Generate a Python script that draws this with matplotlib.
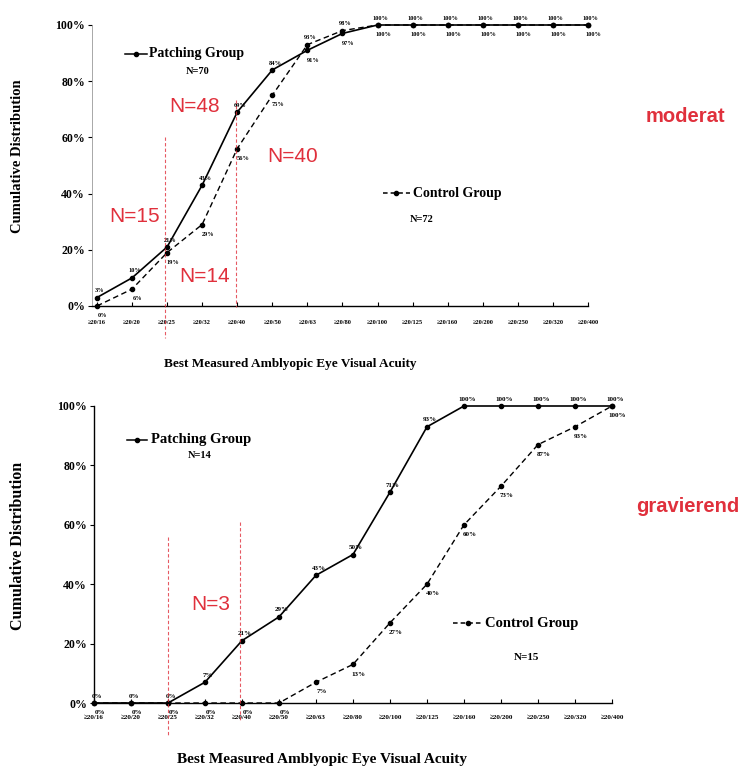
import matplotlib
matplotlib.use("Agg")
import matplotlib.pyplot as plt

# --- Data ---
acuity = ["≥20/16", "≥20/20", "≥20/25", "≥20/32", "≥20/40", "≥20/50", "≥20/63", "≥20/80",
          "≥20/100", "≥20/125", "≥20/160", "≥20/200", "≥20/250", "≥20/320", "≥20/400"]

mod_patching = [3, 10, 21, 43, 69, 84, 91, 97, 100, 100, 100, 100, 100, 100, 100]
mod_control = [0, 6, 19, 29, 56, 75, 93, 98, 100, 100, 100, 100, 100, 100, 100]

sev_patching = [0, 0, 0, 7, 21, 29, 43, 50, 71, 93, 100, 100, 100, 100, 100]
sev_control = [0, 0, 0, 0, 0, 0, 7, 13, 27, 40, 60, 73, 87, 93, 100]

yticks = [0, 20, 40, 60, 80, 100]

W, H = 752, 776
RED = "#e0303c"
SERIF = ["Liberation Serif", "DejaVu Serif"]
SANS = ["Liberation Sans", "DejaVu Sans"]


def fx(x):
    return x / W


def fy(y):
    return 1 - y / H


fig = plt.figure(figsize=(W / 100, H / 100), dpi=100)


def draw_panel(rect, xlim, patching, control, tick_fs, lab_fs, pad):
    ax = fig.add_axes(rect)
    x = list(range(len(acuity)))
    ax.plot(x, patching, "-", color="black", lw=1.2, marker="o", ms=3, clip_on=False, zorder=3)
    ax.plot(x, control, "--", color="black", lw=1.0, marker="o", ms=3, dashes=(4, 2.5),
            clip_on=False, zorder=3)
    ax.set_xlim(*xlim)
    ax.set_ylim(0, 100)
    ax.set_xticks(x)
    ax.set_xticklabels(acuity, fontsize=tick_fs, family=SERIF, fontweight="bold")
    ax.set_yticks(yticks)
    ax.set_yticklabels([f"{v}%" for v in yticks], fontsize=8.5, family=SERIF, fontweight="bold")
    ax.tick_params(axis="x", direction="in", length=3, width=0.8, pad=pad)
    ax.tick_params(axis="y", direction="out", length=3, width=0.8, pad=2)
    for s in ["top", "right"]:
        ax.spines[s].set_visible(False)
    ax.spines["bottom"].set_linewidth(1.0)
    ax.spines["left"].set_linewidth(1.0)

    # value labels: the higher series above its points, the other below
    for i in x:
        p, c = patching[i], control[i]
        p_up = p >= c
        ax.annotate(f"{p}%", (i, p), xytext=(2, 5) if p_up else (4, -7),
                    textcoords="offset points", ha="center", va="center",
                    fontsize=lab_fs, family=SERIF, fontweight="bold", annotation_clip=False)
        ax.annotate(f"{c}%", (i, c), xytext=(2, 5) if not p_up else (4, -7),
                    textcoords="offset points", ha="center", va="center",
                    fontsize=lab_fs, family=SERIF, fontweight="bold", annotation_clip=False)
    return ax


# --- moderate amblyopia ---
ax1 = draw_panel([fx(92), fy(306), fx(588 - 92), (306 - 25) / H], (-0.14, 14),
                 mod_patching, mod_control, 4.6, 4.6, 10)
ax1.spines["left"].set_color("#9a9a9a")
ax1.spines["left"].set_linewidth(0.6)

# --- severe amblyopia ---
ax2 = draw_panel([fx(94), fy(703), fx(612 - 94), (703 - 406) / H], (0, 14),
                 sev_patching, sev_control, 5.0, 5.0, 8.5)

# axis titles
fig.text(fx(18), fy(156), "Cumulative Distribution", rotation=90, ha="center", va="center",
         fontsize=10.5, family=SERIF, fontweight="bold")
fig.text(fx(290), fy(364), "Best Measured Amblyopic Eye Visual Acuity", ha="center", va="center",
         fontsize=9.5, family=SERIF, fontweight="bold")
fig.text(fx(18), fy(546), "Cumulative Distribution", rotation=90, ha="center", va="center",
         fontsize=11.5, family=SERIF, fontweight="bold")
fig.text(fx(322), fy(760), "Best Measured Amblyopic Eye Visual Acuity", ha="center", va="center",
         fontsize=11, family=SERIF, fontweight="bold")


# legend-like labels drawn by hand, as in the original
def legend_item(x0, x1, y, style, text, tx, fs):
    fig.add_artist(plt.Line2D([fx(x0), fx(x1)], [fy(y), fy(y)], color="black", lw=1.1,
                              linestyle=style, transform=fig.transFigure))
    fig.add_artist(plt.Line2D([fx((x0 + x1) / 2)], [fy(y)], marker="o", ms=3, color="black",
                              transform=fig.transFigure))
    fig.text(fx(tx), fy(y), text, ha="left", va="center", fontsize=fs, family=SERIF,
             fontweight="bold")


legend_item(125, 147, 54, "-", "Patching Group", 149, 10)
fig.text(fx(198), fy(72), "N=70", ha="center", va="center", fontsize=7.5, family=SERIF, fontweight="bold")
legend_item(383, 410, 193, (0, (3, 2)), "Control Group", 413, 10)
fig.text(fx(422), fy(219), "N=72", ha="center", va="center", fontsize=7.5, family=SERIF, fontweight="bold")

legend_item(127, 147, 440, "-", "Patching Group", 151, 10.5)
fig.text(fx(200), fy(456), "N=14", ha="center", va="center", fontsize=7.5, family=SERIF, fontweight="bold")
legend_item(453, 482, 623, (0, (3, 2)), "Control Group", 485, 10.5)
fig.text(fx(527), fy(657), "N=15", ha="center", va="center", fontsize=8, family=SERIF, fontweight="bold")

# red annotations
red_lines = [(165, 137, 338), (236, 100, 307), (168, 537, 735), (240, 522, 722)]
for xx, y0, y1 in red_lines:
    fig.add_artist(plt.Line2D([fx(xx), fx(xx)], [fy(y0), fy(y1)], color=RED, lw=0.8,
                              linestyle=(0, (3, 2)), alpha=0.8, transform=fig.transFigure))

red_texts = [("N=48", 195, 107), ("N=15", 135, 217), ("N=14", 205, 276),
             ("N=40", 293, 157), ("N=3", 211, 604)]
for t, xx, yy in red_texts:
    fig.text(fx(xx), fy(yy), t, ha="center", va="center", fontsize=15, family=SANS, color=RED)

fig.text(fx(685), fy(117), "moderat", ha="center", va="center", fontsize=14.5, family=SANS,
         color=RED, fontweight="bold")
fig.text(fx(688), fy(507), "gravierend", ha="center", va="center", fontsize=14.5, family=SANS,
         color=RED, fontweight="bold")

fig.savefig("out.png", dpi=100)
